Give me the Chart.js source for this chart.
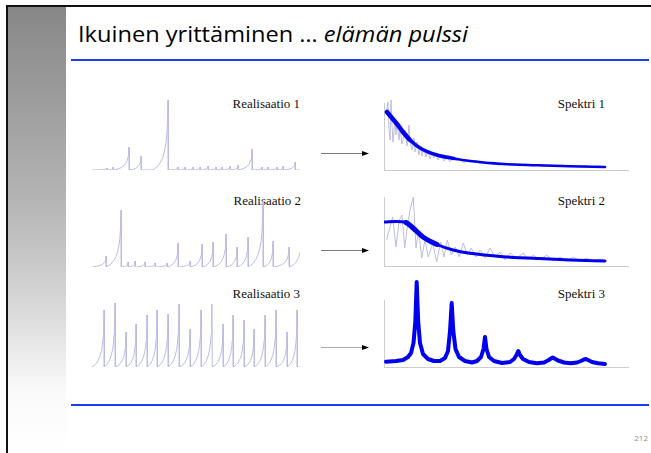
<!DOCTYPE html>
<html>
<head>
<meta charset="utf-8">
<script src="https://cdn.jsdelivr.net/npm/chart.js@4.4.1/dist/chart.umd.min.js"></script>
<style>
  html, body { margin: 0; padding: 0; background: #fff; }
  body { position: relative; width: 651px; height: 453px; overflow: hidden; }
  .abs { position: absolute; }
  .lbl { position: absolute; font: 13px "Liberation Serif", "Times New Roman", serif; line-height: 1; white-space: nowrap; color: #111; }
  canvas { position: absolute; }
</style>
</head>
<body>
<div class="abs" style="left:8px;top:7px;width:58px;height:446px;background:linear-gradient(to bottom,#878787 0%,#b4b4b4 43%,#d6d6d6 66%,#fafafa 86%,#fff 100%)"></div>
<div class="abs" style="left:6px;top:5px;width:645px;height:2px;background:#111"></div>
<div class="abs" style="left:6px;top:5px;width:2px;height:448px;background:#111"></div>
<div class="abs" style="left:71px;top:59px;width:578px;height:2px;background:#1a3cff"></div>
<div class="abs" style="left:71px;top:404px;width:578px;height:2px;background:#1a3cff"></div>
<div id="title" class="abs" style="left:78px;top:21px;font:21px 'Open Sans',sans-serif;line-height:1.3;white-space:nowrap;color:#000;transform-origin:0 0">Ikuinen yrittäminen … <i>elämän pulssi</i></div>
<div class="abs" style="right:3px;top:432px;font:8px 'Open Sans',sans-serif;color:#8c8c8c">212</div>

<svg class="abs" style="left:0;top:0" width="651" height="453">
  <line x1="321" y1="153.5" x2="363" y2="153.5" stroke="#7a7a7a" stroke-width="1"/>
  <polygon points="362,151 369,153.5 362,156" fill="#000"/>
  <line x1="321" y1="250.5" x2="363" y2="250.5" stroke="#7a7a7a" stroke-width="1"/>
  <polygon points="362,248 369,250.5 362,253" fill="#000"/>
  <line x1="321" y1="347.5" x2="363" y2="347.5" stroke="#a8a8a8" stroke-width="1"/>
  <polygon points="362,345 369,347.5 362,350" fill="#000"/>
</svg>

<div class="lbl" style="right:351px;top:97px">Realisaatio 1</div>
<div class="lbl" style="right:350px;top:194px">Realisaatio 2</div>
<div class="lbl" style="right:351px;top:287px">Realisaatio 3</div>
<div class="lbl" style="right:46px;top:97px">Spektri 1</div>
<div class="lbl" style="right:46px;top:194px">Spektri 2</div>
<div class="lbl" style="right:46px;top:287px">Spektri 3</div>

<canvas id="r1"></canvas>
<canvas id="r2"></canvas>
<canvas id="r3"></canvas>
<canvas id="s1"></canvas>
<canvas id="s2"></canvas>
<canvas id="s3"></canvas>

<script>
// realisations: spike times and heights
const r1Times = [15, 21, 37, 49, 76, 86, 93, 101, 108, 116, 124, 130, 138, 146, 160, 170, 176, 185, 191, 203];
const r1Heights = [2, 3, 23, 14, 70, 3, 3, 3, 3, 4, 3, 3, 4, 5, 21, 3, 3, 3, 4, 8];

const r2Times = [14, 29, 36, 43, 53, 63, 75, 86, 98, 110, 121, 134, 145, 156, 171, 181, 197, 210];
const r2Heights = [11, 57, 5, 6, 5, 4, 4, 24, 6, 23, 25, 33, 20, 30, 66, 26, 20, 40];

const r3Times = [12, 23, 34, 44, 55, 65, 76, 87, 98, 109, 120, 131, 141, 152, 162, 173, 184, 195, 205];
const r3Heights = [57, 64, 35, 43, 52, 57, 53, 63, 38, 57, 63, 43, 52, 47, 38, 52, 57, 35, 57];

// rise of one pulse (fraction of rise time, fraction of height)
const pulseT = [0, 0.3, 0.5, 0.65, 0.77, 0.86, 0.93, 0.97, 1];
const pulseV = [0, 0.05, 0.11, 0.18, 0.27, 0.38, 0.52, 0.7, 1];

// spectra
const s1Freq = [3, 8, 13, 19, 26, 36, 53, 70, 86, 119, 153, 186, 221];
const s1Smooth = [58, 52, 46, 38, 30, 22, 15, 11.5, 9, 6, 4.7, 3.7, 3];
const s1RawF = [2, 4, 5, 6, 7, 8, 9, 11, 12, 13, 15, 16, 18, 20, 21, 23, 25, 26, 28, 30, 31, 33, 35, 37, 38, 40, 42, 44, 46, 48, 50, 52, 54, 57, 60, 63, 66, 69, 72, 76, 80, 84, 88, 92, 96, 100, 105, 110, 115, 120, 125, 130, 136, 142, 148, 154, 160, 166, 172, 178, 184, 190, 196, 202, 208, 214, 221];
const s1RawP = [55, 68, 40, 30, 70, 45, 28, 50, 35, 48, 30, 42, 26, 35, 40, 24, 45, 28, 20, 32, 18, 28, 15, 24, 14, 22, 13, 19, 11, 17, 12, 16, 10, 15, 9, 13, 8, 12, 9, 11, 7, 10, 8, 10, 6, 8, 6, 8, 5, 7, 5, 6.5, 4, 6, 4, 5.5, 3.5, 5, 3.5, 5, 3, 4.5, 3, 4.5, 2.5, 4, 3];

const s2Freq = [1, 12, 22, 29, 39, 53, 69, 86, 119, 153, 186, 221];
const s2Smooth = [44, 44.5, 43.5, 38, 29, 21.5, 16, 12.7, 9.3, 7.5, 6, 5];
const s2RawF = [2.7, 6, 8.7, 12, 15.3, 18, 20.7, 23.3, 26, 29.3, 32, 34.7, 37.7, 41, 44.3, 48.7, 52.7, 56.7, 60, 63.3, 67.3, 71.3, 75.3, 79.3, 83.3, 87.3, 92, 96, 101, 106, 111, 116, 121, 126, 132.7, 139.3, 144.3, 149.3, 156, 162.7, 169.3, 176, 182.7, 189.3, 196, 202.7, 209.3, 216, 221];
const s2RawP = [26, 39, 49, 19, 46, 51, 18, 39, 56, 69, 18, 36, 8, 26, 9, 23, 4, 24, 9, 26, 11, 19, 9, 23, 11, 18, 9, 16, 8, 18, 9, 14, 6, 13, 8, 13, 6, 11, 6, 11, 5, 9, 5, 9, 5, 8, 5, 7, 5];

const s3Freq = [2, 12, 19, 24, 27, 29.5, 31.3, 32.7, 34.2, 36, 39, 44, 50, 56, 61, 64, 66, 67.7, 69.3, 71.5, 75, 81, 88, 93, 97, 99.5, 101, 102.5, 105, 110, 118, 126, 130, 132.5, 134.3, 136, 139, 145, 153, 160, 164, 167, 168.7, 170.5, 174, 180, 187, 193, 197, 200, 202, 204, 208, 214, 221];
const s3Power = [5.3, 6, 7, 10, 14, 24, 45, 85, 45, 24, 13, 8, 6, 6, 9, 16, 36, 64, 36, 18, 10, 6, 4.5, 6, 10, 18, 30, 18, 10, 6, 4, 5, 8, 12, 16, 12, 8, 5, 3.8, 4.5, 6.5, 8.5, 9.5, 8.5, 6.5, 4.5, 3.7, 4.5, 6, 7.5, 8, 7, 5, 3.7, 3];

const thin = '#bcbce3';
const thick = '#0000ee';

function pulses(times, heights, tEnd) {
  const pts = [{ x: 0, y: 0 }];
  let prev = 0;
  times.forEach((t, i) => {
    const rise = Math.min(t - prev, 15);
    const t0 = t - rise;
    pulseT.forEach((f, k) => pts.push({ x: t0 + f * rise, y: pulseV[k] * heights[i] }));
    pts.push({ x: t + 0.3, y: 0 });
    prev = t + 0.3;
  });
  pts.push({ x: tEnd, y: 0 });
  return pts;
}

const zip = (xs, ys) => xs.map((x, i) => ({ x: x, y: ys[i] }));

function panel(id, box, xMax, yMax, datasets, axes) {
  const pad = { left: 6, right: 6, top: 24, bottom: 4 };
  const cv = document.getElementById(id);
  cv.width = box.w + pad.left + pad.right;
  cv.height = box.h + pad.top + pad.bottom;
  cv.style.left = (box.x - pad.left) + 'px';
  cv.style.top = (box.y - pad.top) + 'px';
  const axis = (max) => ({
    type: 'linear', min: 0, max: max, display: axes,
    grid: { display: false, drawTicks: false },
    ticks: { display: false },
    border: { display: true, color: '#cdcdcd', width: 1 }
  });
  new Chart(cv, {
    type: 'line',
    data: { datasets: datasets },
    options: {
      responsive: false,
      animation: false,
      events: [],
      layout: { padding: pad },
      plugins: { legend: { display: false }, tooltip: { enabled: false } },
      elements: { point: { radius: 0 } },
      scales: { x: axis(xMax), y: axis(yMax) }
    }
  });
}

const realLine = (pts) => ({ data: pts, borderColor: thin, borderWidth: 1, tension: 0 });

panel('r1', { x: 92, y: 100, w: 208, h: 70 }, 208, 70, [realLine(pulses(r1Times, r1Heights, 208))], false);
panel('r2', { x: 92, y: 196.7, w: 208, h: 70 }, 208, 70, [realLine(pulses(r2Times, r2Heights, 214))], false);
panel('r3', { x: 92, y: 297.3, w: 208, h: 70 }, 208, 70, [realLine(pulses(r3Times, r3Heights, 208))], false);

const rawLine = (xs, ys) => ({ data: zip(xs, ys), borderColor: thin, borderWidth: 1, tension: 0, clip: false });

panel('s1', { x: 384, y: 103, w: 244, h: 67 }, 244, 67, [
  { data: zip(s1Freq, s1Smooth), borderColor: thick, cubicInterpolationMode: 'monotone', borderCapStyle: 'round', borderJoinStyle: 'round',
    segment: { borderWidth: ctx => ctx.p0.parsed.x < 20 ? 4.5 : (ctx.p0.parsed.x < 60 ? 3.5 : 2.5) } },
  rawLine(s1RawF, s1RawP)
], true);

panel('s2', { x: 384, y: 197, w: 244, h: 69 }, 244, 69, [
  { data: zip(s2Freq, s2Smooth), borderColor: thick, cubicInterpolationMode: 'monotone', borderCapStyle: 'round', borderJoinStyle: 'round',
    segment: { borderWidth: ctx => (ctx.p0.parsed.x > 15 && ctx.p0.parsed.x < 50) ? 5 : 3 } },
  rawLine(s2RawF, s2RawP)
], true);

panel('s3', { x: 384, y: 300, w: 244, h: 67 }, 244, 67, [
  { data: zip(s3Freq, s3Power), borderColor: thick, borderWidth: 4, tension: 0, borderJoinStyle: 'round', borderCapStyle: 'round', clip: false }
], true);

// fit the title to the width it has on the slide
const title = document.getElementById('title');
const w = title.getBoundingClientRect().width;
title.style.transform = 'scaleX(' + (390 / w) + ')';
</script>
</body>
</html>
